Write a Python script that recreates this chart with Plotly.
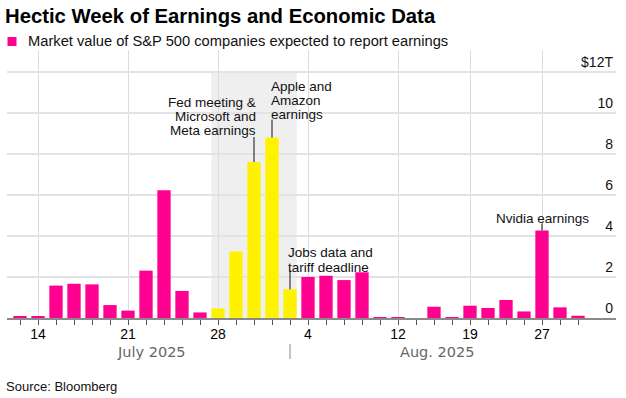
import plotly.graph_objects as go

# ---------------- data ----------------
days = ["Jul 11", "Jul 14", "Jul 15", "Jul 16", "Jul 17", "Jul 18",
        "Jul 21", "Jul 22", "Jul 23", "Jul 24", "Jul 25",
        "Jul 28", "Jul 29", "Jul 30", "Jul 31", "Aug 1",
        "Aug 4", "Aug 5", "Aug 6", "Aug 7", "Aug 8",
        "Aug 12", "Aug 13", "Aug 14", "Aug 15",
        "Aug 19", "Aug 20", "Aug 21", "Aug 22",
        "Aug 27", "Aug 28", "Aug 29"]
market_value_tn = [0.05, 0.05, 1.58, 1.67, 1.64, 0.63,
                   0.36, 2.31, 6.23, 1.32, 0.27,
                   0.47, 3.25, 7.61, 8.80, 1.40,
                   2.00, 2.06, 1.85, 2.23, 0.02,
                   0.04, 0.00, 0.55, 0.04,
                   0.60, 0.49, 0.88, 0.32,
                   4.27, 0.52, 0.11]
highlight_week = ["Jul 28", "Jul 29", "Jul 30", "Jul 31", "Aug 1"]
tick_days = ["Jul 14", "Jul 21", "Jul 28", "Aug 4", "Aug 12", "Aug 19", "Aug 27"]
tick_labels = ["14", "21", "28", "4", "12", "19", "27"]
month_labels = ["July 2025", "Aug. 2025"]
month_break_day = "Aug 1"
y_ticks = [0, 2, 4, 6, 8, 10, 12]
y_tick_labels = ["0", "2", "4", "6", "8", "10", "$12T"]
events = {
    "Jul 30": ["Fed meeting &", "Microsoft and", "Meta earnings"],
    "Jul 31": ["Apple and", "Amazon", "earnings"],
    "Aug 1": ["Jobs data and", "tariff deadline"],
    "Aug 27": ["Nvidia earnings"],
}
series_name = "Market value of S&P 500 companies expected to report earnings"
title = "Hectic Week of Earnings and Economic Data"
source = "Source: Bloomberg"

# ---------------- style ----------------
PINK = "#ff0090"
YELLOW = "#fff200"
FONT = "Liberation Sans, Arial, sans-serif"
W, H = 626, 398
ML, MR, MT, MB = 7, 10, 50, 80
PW, PH = W - ML - MR, H - MT - MB
BAR_W = 0.74

idx = {d: i for i, d in enumerate(days)}
x = list(range(len(days)))
colors = [YELLOW if d in highlight_week else PINK for d in days]


def px(xp):
    return (xp - ML) / PW


def py(yp):
    return (H - MB - yp) / PH


fig = go.Figure()
fig.add_trace(go.Bar(
    x=x, y=market_value_tn, width=BAR_W,
    marker=dict(color=colors, line=dict(width=0)),
    name=series_name, hovertext=days, showlegend=False,
))

# highlighted week shading
hw = [idx[d] for d in highlight_week]
fig.add_shape(type="rect", xref="x", yref="y",
              x0=min(hw) - BAR_W / 2, x1=max(hw) + BAR_W / 2, y0=0, y1=max(y_ticks),
              fillcolor="#efefef", line=dict(width=0), layer="below")

# event annotations (line + text lines)
ev_style = {
    "Jul 30": dict(anchor="right", xshift=4, line=25, shifts=[59.3, 45.3, 31.3]),
    "Jul 31": dict(anchor="left", xshift=-3, line=18, shifts=[51, 37, 23]),
    "Aug 1": dict(anchor="left", xshift=-4, line=19, shifts=[36.8, 22.3]),
    "Aug 27": dict(anchor="center", xshift=0, line=7, shifts=[12.4]),
}
for d, lines in events.items():
    st = ev_style[d]
    i = idx[d]
    v = market_value_tn[i]
    fig.add_shape(type="line", xref="x", yref="y", ysizemode="pixel", yanchor=v,
                  x0=i, x1=i, y0=0, y1=st["line"], line=dict(color="#111", width=1))
    for ln, sh in zip(lines, st["shifts"]):
        fig.add_annotation(x=i, y=v, xref="x", yref="y", text=ln, showarrow=False,
                           xanchor=st["anchor"], yanchor="middle",
                           xshift=st["xshift"], yshift=sh,
                           font=dict(family=FONT, size=13.5, color="#111"))

# legend marker + text
fig.add_shape(type="rect", xref="paper", yref="paper",
              x0=px(7.5), x1=px(16.5), y0=py(46), y1=py(37),
              fillcolor=PINK, line=dict(width=0))
fig.add_annotation(xref="paper", yref="paper", x=px(25.5), y=py(41), text=series_name,
                   showarrow=False, xanchor="left", yanchor="middle",
                   font=dict(family=FONT, size=14.7, color="#111"))

# month labels and separator
b = idx[month_break_day]
fig.add_shape(type="line", xref="x", yref="paper", x0=b, x1=b, y0=py(344), y1=py(359),
              line=dict(color="#888", width=1))
fig.add_annotation(xref="paper", yref="paper", x=px(151), y=py(351.5), text=month_labels[0],
                   showarrow=False, xanchor="center", yanchor="middle",
                   font=dict(family="DejaVu Sans", size=14.5, color="#666"))
fig.add_annotation(xref="paper", yref="paper", x=px(437), y=py(351.5), text=month_labels[1],
                   showarrow=False, xanchor="center", yanchor="middle",
                   font=dict(family="DejaVu Sans", size=14.5, color="#666"))

# source
fig.add_annotation(xref="paper", yref="paper", x=px(4), y=py(386), text=source,
                   showarrow=False, xanchor="left", yanchor="middle",
                   font=dict(family=FONT, size=13, color="#111"))

fig.update_layout(
    width=W, height=H,
    margin=dict(l=ML, r=MR, t=MT, b=MB, pad=0),
    paper_bgcolor="white", plot_bgcolor="white",
    font=dict(family=FONT, color="#111"),
    title=dict(text="<b>" + title + "</b>", x=5 / W, xref="container", xanchor="left",
               y=1 - 15.5 / H, yref="container", yanchor="middle",
               font=dict(family=FONT, size=20.3, color="#000")),
    bargap=0.26,
    showlegend=False,
)
fig.update_xaxes(
    range=[(ML - 20) / 18, (ML - 20) / 18 + PW / 18],
    tickmode="array", tickvals=[idx[d] for d in tick_days], ticktext=tick_labels,
    ticks="outside", ticklen=5, tickcolor="#555", tickwidth=1,
    minor=dict(ticks="outside", dtick=1, tick0=0, ticklen=5, tickcolor="#555", showgrid=False),
    showgrid=True, gridcolor="#dcdcdc", gridwidth=1,
    showline=True, linecolor="#8a8a8a", linewidth=2,
    zeroline=False, ticklabelstandoff=-3,
    tickfont=dict(family=FONT, size=14, color="#000"),
)
fig.update_yaxes(
    range=[0, PH / 20.5], side="right",
    tickmode="array", tickvals=y_ticks, ticktext=y_tick_labels,
    ticklabelposition="inside top", ticks="",
    showgrid=True, gridcolor="#e3e3e3", gridwidth=1.5,
    zeroline=False, showline=False,
    tickfont=dict(family=FONT, size=14, color="#111"),
)

fig.write_html("out.html", config={"displayModeBar": False},
               post_script="document.body.style.margin='0px';")
